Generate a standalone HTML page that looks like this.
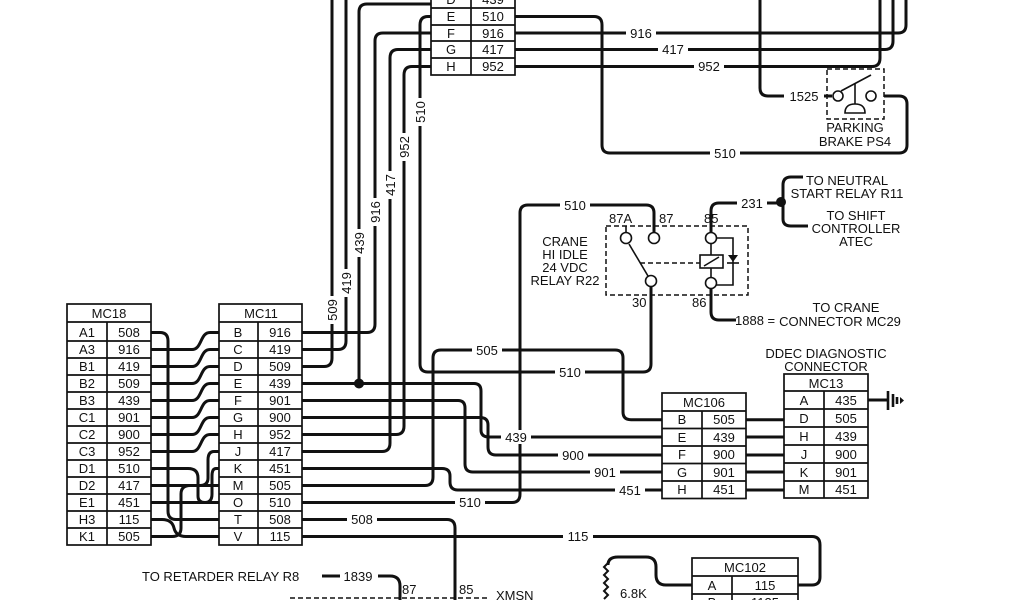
<!DOCTYPE html>
<html><head><meta charset="utf-8"><style>
html,body{margin:0;padding:0;background:#fff;}
svg{display:block;}
text{font-family:"Liberation Sans",Arial,sans-serif;font-size:13px;fill:#111;}
.w{fill:none;stroke:#111;stroke-width:3;}
.b{fill:none;stroke:#111;stroke-width:1.7;}
.d{fill:none;stroke:#111;stroke-width:1.5;stroke-dasharray:5,3;}
.lbl{fill:#fff;stroke:none;}
</style></head><body>
<svg width="1024" height="600" viewBox="0 0 1024 600" xmlns="http://www.w3.org/2000/svg">
<rect width="1024" height="600" fill="#fff"/>

<g class="w">
<path d="M151,349.5 H192 C202,349.5 200,332.5 210,332.5 H219"/>
<path d="M151,366.5 H192 C202,366.5 200,349.5 210,349.5 H219"/>
<path d="M151,383.5 H192 C202,383.5 200,366.5 210,366.5 H219"/>
<path d="M151,400.5 H192 C202,400.5 200,383.5 210,383.5 H219"/>
<path d="M151,417.5 H192 C202,417.5 200,400.5 210,400.5 H219"/>
<path d="M151,434.5 H192 C202,434.5 200,417.5 210,417.5 H219"/>
<path d="M151,451.5 H192 C202,451.5 200,434.5 210,434.5 H219"/>
<path d="M151,468.5 H188 Q198,468.5 198,478 V496 Q198,502.5 205,502.5 H219"/>
<path d="M151,485.5 H200 Q208,485.5 208,478 V460 Q208,451.5 214,451.5 H219"/>
<path d="M151,502.5 H205 Q212,502.5 212,494 V476 Q212,468.5 216,468.5 H219"/>
<path d="M151,332.5 H160 Q168,332.5 168,341 V511 Q168,519.5 176,519.5 H219"/>
<path d="M151,519.5 H162 Q172,519.5 174,528 Q176,536.5 186,536.5 H219"/>
<path d="M151,536.5 H172 Q181,536.5 181,528 V494 Q181,485.5 190,485.5 H219"/>
</g>

<g class="w">
<path d="M302,332.5 H367 Q375,332.5 375,324 V41 Q375,33 383,33 H431"/>
<path d="M302,349.5 H338 Q346,349.5 346,341 V0"/>
<path d="M302,366.5 H324 Q332,366.5 332,358 V0"/>
<path d="M302,383.5 H474 Q481,383.5 481,391 V430 Q481,437 489,437 H662"/>
<path d="M359,383.5 V12 Q359,4 367,4 H431"/>
<path d="M302,400.5 H458 Q465,400.5 465,408 V464 Q465,472 473,472 H662"/>
<path d="M302,417.5 H480 Q488,417.5 488,425 V447 Q488,455 496,455 H662"/>
<path d="M302,434.5 H396 Q404,434.5 404,426 V75 Q404,66.5 412,66.5 H431"/>
<path d="M302,451.5 H382 Q390,451.5 390,443 V58 Q390,49.5 398,49.5 H431"/>
<path d="M302,468.5 H442 Q450,468.5 450,476 V482 Q450,490 458,490 H662"/>
<path d="M302,485.5 H425 Q433,485.5 433,477 V358 Q433,350 441,350 H615 Q623,350 623,358 V412 Q623,419.7 631,419.7 H662"/>
<path d="M302,502.5 H512 Q520,502.5 520,494 V213 Q520,205 528,205 H646 Q654,205 654,213 V232"/>
<path d="M431,16.5 H428 Q420,16.5 420,25 V364 Q420,372 428,372 H643 Q651,372 651,364 V287"/>
<path d="M302,519.5 H447 Q455,519.5 455,528 V600"/>
<path d="M302,536.5 H812 Q820,536.5 820,545 V577 Q820,585 812,585 H798"/>
<path d="M515,16.5 H594 Q602,16.5 602,25 V145 Q602,153 610,153 H899 Q907,153 907,145 V104 Q907,96 899,96 H884"/>
<path d="M515,33 H898 Q906,33 906,25 V0"/>
<path d="M515,49.5 H885 Q893,49.5 893,41 V0"/>
<path d="M515,66.5 H872 Q880,66.5 880,58 V0"/>
<path d="M760,0 V88 Q760,96 768,96 H832"/>
<path d="M746,419.7 H784"/><path d="M746,437 H784"/><path d="M746,455 H784"/><path d="M746,472 H784"/><path d="M746,490 H784"/>
<path d="M711,232 V211 Q711,203 719,203 H780"/>
<path d="M803,177 H791 Q783,177 783,185 V219 Q783,226 791,226 H808"/>
<path d="M711,289 V312 Q711,320 719,320 H736"/>
<path d="M868,400 H888"/>
<path d="M322,576 H340"/>
<path d="M378,576 H390 Q400,576 400,586 V600"/>
<path d="M692,585 H666 Q656,585 656,575 V567 Q656,557 646,557 H618 Q608,557 608,565"/>
</g>
<circle cx="359" cy="383.5" r="5" fill="#111"/>
<circle cx="781" cy="202" r="5" fill="#111"/>

<g stroke="#111" stroke-width="2.6"><line x1="888" y1="391" x2="888" y2="410"/><line x1="893" y1="394" x2="893" y2="407"/><line x1="897" y1="397" x2="897" y2="404"/></g>
<polygon points="900,397 904,400.5 900,404" fill="#111"/>

<path d="M608,563 l-4,4 l4,4 l-4,4 l4,4 l-4,4 l4,4 l-4,4 l4,4 l-4,4" fill="none" stroke="#111" stroke-width="2"/>
<text x="620" y="598">6.8K</text>

<g>
<rect class="lbl" x="326" y="296" width="12" height="28"/><text transform="translate(337,310) rotate(-90)" text-anchor="middle">509</text>
<rect class="lbl" x="340" y="269" width="12" height="28"/><text transform="translate(351,283) rotate(-90)" text-anchor="middle">419</text>
<rect class="lbl" x="353" y="229" width="12" height="28"/><text transform="translate(364,243) rotate(-90)" text-anchor="middle">439</text>
<rect class="lbl" x="369" y="198" width="12" height="28"/><text transform="translate(380,212) rotate(-90)" text-anchor="middle">916</text>
<rect class="lbl" x="384" y="171" width="12" height="28"/><text transform="translate(395,185) rotate(-90)" text-anchor="middle">417</text>
<rect class="lbl" x="398" y="133" width="12" height="28"/><text transform="translate(409,147) rotate(-90)" text-anchor="middle">952</text>
<rect class="lbl" x="414" y="98" width="12" height="28"/><text transform="translate(425,112) rotate(-90)" text-anchor="middle">510</text>
</g>
<g text-anchor="middle">
<rect class="lbl" x="472" y="343" width="30" height="14"/><text x="487" y="355">505</text>
<rect class="lbl" x="555" y="365" width="30" height="14"/><text x="570" y="377">510</text>
<rect class="lbl" x="501" y="430" width="30" height="14"/><text x="516" y="442">439</text>
<rect class="lbl" x="558" y="448" width="30" height="14"/><text x="573" y="460">900</text>
<rect class="lbl" x="590" y="465" width="30" height="14"/><text x="605" y="477">901</text>
<rect class="lbl" x="615" y="483" width="30" height="14"/><text x="630" y="495">451</text>
<rect class="lbl" x="455" y="495" width="30" height="14"/><text x="470" y="507">510</text>
<rect class="lbl" x="347" y="512" width="30" height="14"/><text x="362" y="524">508</text>
<rect class="lbl" x="563" y="529" width="30" height="14"/><text x="578" y="541">115</text>
<rect class="lbl" x="626" y="26" width="30" height="14"/><text x="641" y="38">916</text>
<rect class="lbl" x="658" y="42" width="30" height="14"/><text x="673" y="54">417</text>
<rect class="lbl" x="694" y="59" width="30" height="14"/><text x="709" y="71">952</text>
<rect class="lbl" x="710" y="146" width="30" height="14"/><text x="725" y="158">510</text>
<rect class="lbl" x="784" y="89" width="40" height="14"/><text x="804" y="101">1525</text>
<rect class="lbl" x="560" y="198" width="30" height="14"/><text x="575" y="210">510</text>
<rect class="lbl" x="737" y="196" width="30" height="14"/><text x="752" y="208">231</text>
<text x="358" y="581">1839</text>
</g>
<text x="735" y="325">1888 =</text>

<g class="b"><rect x="431" y="-10" width="84" height="85" fill="#fff"/><line x1="471" y1="-10" x2="471" y2="75"/>
<line x1="431" y1="8" x2="515" y2="8"/><line x1="431" y1="25" x2="515" y2="25"/><line x1="431" y1="41" x2="515" y2="41"/><line x1="431" y1="58" x2="515" y2="58"/></g>
<g text-anchor="middle">
<text x="451" y="4">D</text><text x="493" y="4">439</text>
<text x="451" y="21">E</text><text x="493" y="21">510</text>
<text x="451" y="38">F</text><text x="493" y="38">916</text>
<text x="451" y="54">G</text><text x="493" y="54">417</text>
<text x="451" y="71">H</text><text x="493" y="71">952</text>
</g>

<g class="b"><rect x="67" y="304" width="84" height="241" fill="#fff"/><line x1="67" y1="322" x2="151" y2="322"/><line x1="107" y1="322" x2="107" y2="545"/>
<path d="M67,341H151M67,358H151M67,375H151M67,392H151M67,409H151M67,426H151M67,443H151M67,460H151M67,477H151M67,494H151M67,511H151M67,528H151"/></g>
<g text-anchor="middle">
<text x="109" y="318">MC18</text>
<text x="87" y="337">A1</text><text x="129" y="337">508</text>
<text x="87" y="354">A3</text><text x="129" y="354">916</text>
<text x="87" y="371">B1</text><text x="129" y="371">419</text>
<text x="87" y="388">B2</text><text x="129" y="388">509</text>
<text x="87" y="405">B3</text><text x="129" y="405">439</text>
<text x="87" y="422">C1</text><text x="129" y="422">901</text>
<text x="87" y="439">C2</text><text x="129" y="439">900</text>
<text x="87" y="456">C3</text><text x="129" y="456">952</text>
<text x="87" y="473">D1</text><text x="129" y="473">510</text>
<text x="87" y="490">D2</text><text x="129" y="490">417</text>
<text x="87" y="507">E1</text><text x="129" y="507">451</text>
<text x="87" y="524">H3</text><text x="129" y="524">115</text>
<text x="87" y="541">K1</text><text x="129" y="541">505</text>
</g>

<g class="b"><rect x="219" y="304" width="83" height="241" fill="#fff"/><line x1="219" y1="322" x2="302" y2="322"/><line x1="258" y1="322" x2="258" y2="545"/>
<path d="M219,341H302M219,358H302M219,375H302M219,392H302M219,409H302M219,426H302M219,443H302M219,460H302M219,477H302M219,494H302M219,511H302M219,528H302"/></g>
<g text-anchor="middle">
<text x="261" y="318">MC11</text>
<text x="238" y="337">B</text><text x="280" y="337">916</text>
<text x="238" y="354">C</text><text x="280" y="354">419</text>
<text x="238" y="371">D</text><text x="280" y="371">509</text>
<text x="238" y="388">E</text><text x="280" y="388">439</text>
<text x="238" y="405">F</text><text x="280" y="405">901</text>
<text x="238" y="422">G</text><text x="280" y="422">900</text>
<text x="238" y="439">H</text><text x="280" y="439">952</text>
<text x="238" y="456">J</text><text x="280" y="456">417</text>
<text x="238" y="473">K</text><text x="280" y="473">451</text>
<text x="238" y="490">M</text><text x="280" y="490">505</text>
<text x="238" y="507">O</text><text x="280" y="507">510</text>
<text x="238" y="524">T</text><text x="280" y="524">508</text>
<text x="238" y="541">V</text><text x="280" y="541">115</text>
</g>

<g class="b"><rect x="662" y="393" width="84" height="105.5" fill="#fff"/><line x1="662" y1="411" x2="746" y2="411"/><line x1="702" y1="411" x2="702" y2="498.5"/>
<path d="M662,428.5H746M662,446H746M662,463.5H746M662,481H746"/></g>
<g text-anchor="middle">
<text x="704" y="407">MC106</text>
<text x="682" y="424">B</text><text x="724" y="424">505</text>
<text x="682" y="442">E</text><text x="724" y="442">439</text>
<text x="682" y="459">F</text><text x="724" y="459">900</text>
<text x="682" y="477">G</text><text x="724" y="477">901</text>
<text x="682" y="494">H</text><text x="724" y="494">451</text>
</g>

<g class="b"><rect x="784" y="374" width="84" height="124" fill="#fff"/><line x1="784" y1="391" x2="868" y2="391"/><line x1="824" y1="391" x2="824" y2="498"/>
<path d="M784,409H868M784,427H868M784,445H868M784,463H868M784,481H868"/></g>
<g text-anchor="middle">
<text x="826" y="358">DDEC DIAGNOSTIC</text>
<text x="826" y="371">CONNECTOR</text>
<text x="826" y="388">MC13</text>
<text x="804" y="405">A</text><text x="846" y="405">435</text>
<text x="804" y="423">D</text><text x="846" y="423">505</text>
<text x="804" y="441">H</text><text x="846" y="441">439</text>
<text x="804" y="459">J</text><text x="846" y="459">900</text>
<text x="804" y="477">K</text><text x="846" y="477">901</text>
<text x="804" y="494">M</text><text x="846" y="494">451</text>
</g>

<g class="b"><rect x="692" y="558" width="106" height="50" fill="#fff"/><line x1="692" y1="576" x2="798" y2="576"/><line x1="732" y1="576" x2="732" y2="608"/><line x1="692" y1="594" x2="798" y2="594"/></g>
<g text-anchor="middle">
<text x="745" y="572">MC102</text>
<text x="712" y="590">A</text><text x="765" y="590">115</text>
<text x="712" y="607">B</text><text x="765" y="607">1135</text>
</g>

<rect class="d" x="827" y="69" width="57" height="50"/>
<g fill="#fff" stroke="#111" stroke-width="1.6"><circle cx="838" cy="96" r="5"/><circle cx="871" cy="96" r="5"/></g>
<g stroke="#111" stroke-width="1.6" fill="none"><line x1="841" y1="91" x2="871" y2="75"/><line x1="855" y1="83" x2="855" y2="104"/><path d="M845,113 Q845,104 855,104 Q865,104 865,113 Z"/></g>
<g text-anchor="middle"><text x="855" y="132">PARKING</text><text x="855" y="146">BRAKE PS4</text></g>

<rect class="d" x="606" y="226" width="142" height="69"/>
<line x1="640" y1="263" x2="700" y2="263" class="d"/>
<g stroke="#111" stroke-width="1.6" fill="none">
<line x1="626" y1="226" x2="626" y2="233"/>
<line x1="629" y1="244" x2="648" y2="276"/>
<path d="M716,238 H733 V285 H716"/>
<line x1="711" y1="244" x2="711" y2="255"/><line x1="711" y1="268" x2="711" y2="277"/>
<rect x="700" y="255" width="23" height="13" fill="#fff"/><line x1="704" y1="266" x2="719" y2="257"/>
<line x1="727" y1="263" x2="739" y2="263"/>
</g>
<polygon points="728,255 738,255 733,262" fill="#111"/>
<g fill="#fff" stroke="#111" stroke-width="1.6"><circle cx="626" cy="238" r="5.5"/><circle cx="654" cy="238" r="5.5"/><circle cx="651" cy="281" r="5.5"/><circle cx="711" cy="238" r="5.5"/><circle cx="711" cy="283" r="5.5"/></g>
<text x="609" y="223">87A</text><text x="659" y="223">87</text><text x="704" y="223">85</text>
<text x="632" y="307">30</text><text x="692" y="307">86</text>
<g text-anchor="middle"><text x="565" y="246">CRANE</text><text x="565" y="259">HI IDLE</text><text x="565" y="272">24 VDC</text><text x="565" y="285">RELAY R22</text></g>
<g text-anchor="middle">
<text x="847" y="185">TO NEUTRAL</text><text x="847" y="198">START RELAY R11</text>
<text x="856" y="220">TO SHIFT</text><text x="856" y="233">CONTROLLER</text><text x="856" y="246">ATEC</text>
<text x="846" y="312">TO CRANE</text><text x="840" y="326">CONNECTOR MC29</text>
</g>

<text x="142" y="581">TO RETARDER RELAY R8</text>
<line x1="290" y1="598" x2="488" y2="598" class="d"/>
<text x="402" y="594">87</text><text x="459" y="594">85</text><text x="496" y="600">XMSN</text>
</svg>
</body></html>
